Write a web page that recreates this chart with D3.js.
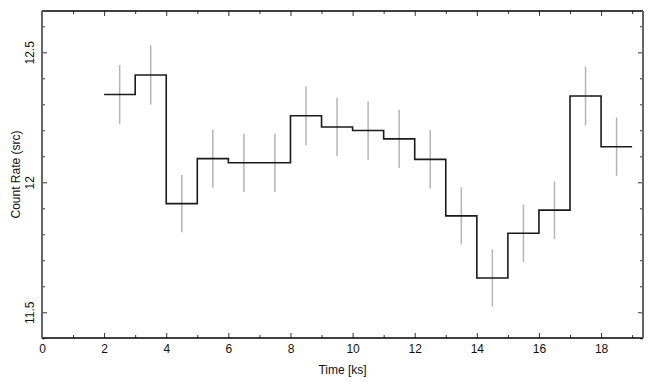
<!DOCTYPE html>
<html>
<head>
<meta charset="utf-8">
<script src="https://cdn.jsdelivr.net/npm/d3@7"></script>
<style>
  body { margin: 0; background: #fff; }
  svg { display: block; font-family: "Liberation Sans", Arial, sans-serif; }
</style>
</head>
<body>
<svg id="chart" width="655" height="385"></svg>
<script>
// light curve bins (start of each 1 ks bin), rate and error
const binStart = [2, 3, 4, 5, 6, 7, 8, 9, 10, 11, 12, 13, 14, 15, 16, 17, 18];
const rate = [12.338, 12.413, 11.918, 12.091, 12.075, 12.075, 12.256, 12.213, 12.199, 12.167,
              12.088, 11.871, 11.632, 11.804, 11.893, 12.332, 12.137];
const rateErr = [0.113, 0.114, 0.11, 0.112, 0.112, 0.112, 0.113, 0.112, 0.112, 0.112,
                 0.112, 0.11, 0.11, 0.111, 0.111, 0.113, 0.112];
const binWidth = 1;
const xMajor = [0, 2, 4, 6, 8, 10, 12, 14, 16, 18];
const xMinor = [1, 3, 5, 7, 9, 11, 13, 15, 17, 19];
const yMajor = [11.5, 12, 12.5];
const yMinor = [11.4, 11.6, 11.7, 11.8, 11.9, 12.1, 12.2, 12.3, 12.4, 12.6];

const svg = d3.select("#chart");
const padL = 42, padR = 643, padT = 11, padB = 338;

const x = d3.scaleLinear().domain([0, 19.35]).range([padL, padR]);
const y = d3.scaleLinear().domain([11.401, 12.659]).range([padB, padT]);

const fmt = d => (d === 12 ? "12" : d3.format(".1f")(d));

// ticks (inward on all four sides)
svg.append("g").attr("transform", `translate(0,${padB})`)
  .call(d3.axisBottom(x).tickValues(xMajor).tickSize(-5).tickPadding(6).tickFormat(d3.format("d")));
svg.append("g").attr("transform", `translate(0,${padB})`)
  .call(d3.axisBottom(x).tickValues(xMinor).tickSize(-3).tickFormat(""));
svg.append("g").attr("transform", `translate(0,${padT})`)
  .call(d3.axisTop(x).tickValues(xMajor).tickSize(-5).tickFormat(""));
svg.append("g").attr("transform", `translate(0,${padT})`)
  .call(d3.axisTop(x).tickValues(xMinor).tickSize(-3).tickFormat(""));

let leftAxis = svg.append("g").attr("transform", `translate(${padL},0)`)
  .call(d3.axisLeft(y).tickValues(yMajor).tickSize(-5).tickFormat(fmt));
svg.append("g").attr("transform", `translate(${padL},0)`)
  .call(d3.axisLeft(y).tickValues(yMinor).tickSize(-3).tickFormat(""));
svg.append("g").attr("transform", `translate(${padR},0)`)
  .call(d3.axisRight(y).tickValues(yMajor).tickSize(-5).tickFormat(""));
svg.append("g").attr("transform", `translate(${padR},0)`)
  .call(d3.axisRight(y).tickValues(yMinor).tickSize(-3).tickFormat(""));

svg.selectAll(".domain").remove();
svg.selectAll(".tick line").attr("stroke", "#333").attr("stroke-width", 1);
svg.selectAll(".tick text").attr("fill", "#111").attr("font-size", 12)
  .attr("font-family", "Liberation Sans, Arial, sans-serif");

// rotated y labels
leftAxis.selectAll(".tick text")
  .attr("x", null)
  .attr("text-anchor", "middle")
  .attr("transform", "translate(-7,0) rotate(-90)")
  .attr("y", 0)
  .attr("dy", "-0.1em");

// frame
svg.append("line").attr("x1", padL).attr("x2", padR).attr("y1", padT).attr("y2", padT)
  .attr("stroke", "#000").attr("stroke-width", 1.5);
svg.append("line").attr("x1", padL).attr("x2", padR).attr("y1", padB).attr("y2", padB)
  .attr("stroke", "#000").attr("stroke-width", 1.5);
svg.append("line").attr("x1", padL).attr("x2", padL).attr("y1", padT).attr("y2", padB)
  .attr("stroke", "#666").attr("stroke-width", 2);
svg.append("line").attr("x1", padR).attr("x2", padR).attr("y1", padT).attr("y2", padB)
  .attr("stroke", "#666").attr("stroke-width", 2);

// error bars
const data = binStart.map((b, i) => ({ t: b + binWidth / 2, v: rate[i], e: rateErr[i], b: b }));
svg.append("g").selectAll("line")
  .data(data)
  .enter()
  .append("line")
  .attr("x1", d => x(d.t)).attr("x2", d => x(d.t))
  .attr("y1", d => y(d.v - d.e)).attr("y2", d => y(d.v + d.e))
  .attr("stroke", "#b4b4b4").attr("stroke-width", 1.5);

// step histogram
const stepPts = data.map(d => [d.b, d.v]);
stepPts.push([binStart[binStart.length - 1] + binWidth, rate[rate.length - 1]]);
svg.append("path")
  .datum(stepPts)
  .attr("fill", "none")
  .attr("stroke", "#1a1a1a")
  .attr("stroke-width", 1.6)
  .attr("d", d3.line().x(p => x(p[0])).y(p => y(p[1])).curve(d3.curveStepAfter));

// axis titles
svg.append("text")
  .attr("x", (padL + padR) / 2).attr("y", 374)
  .attr("text-anchor", "middle").attr("font-size", 12).attr("fill", "#111")
  .text("Time [ks]");
svg.append("text")
  .attr("transform", `translate(20,${(padT + padB) / 2}) rotate(-90)`)
  .attr("text-anchor", "middle").attr("font-size", 12).attr("fill", "#111")
  .text("Count Rate (src)");
</script>
</body>
</html>
